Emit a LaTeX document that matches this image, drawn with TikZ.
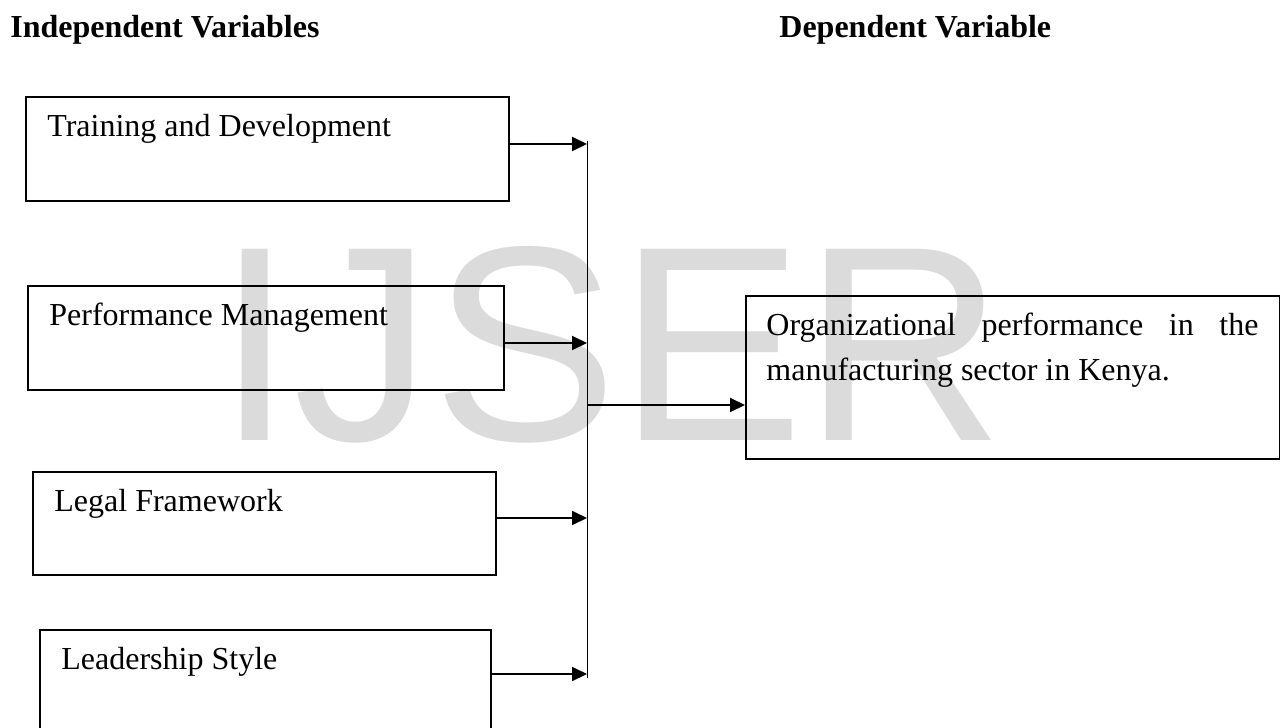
\documentclass[tikz,border=0pt]{standalone}
\usepackage{fontspec}
\setmainfont{Liberation Serif}
\newfontfamily\markfont{Liberation Sans}
\usetikzlibrary{arrows.meta}
\newcommand\bodysize{\fontsize{16}{22.5}\selectfont}
\newcommand\nohyph{\hyphenpenalty=10000\relax}

\begin{document}
\begin{tikzpicture}[x=0.5pt,y=-0.5pt]
	\tikzstyle{varbox}=[draw,line width=1pt,inner sep=0pt,anchor=north west]
	\tikzstyle{boxtext}=[anchor=base west,inner sep=0pt,xshift=11pt,yshift=-20pt,font=\bodysize]
	\tikzstyle{head}=[anchor=base west,inner sep=0pt,font=\bodysize\bfseries]
	\tikzstyle{feed}=[-{Triangle[length=7.5pt,width=7pt]},line width=1pt]

	\clip (0,0) rectangle (1280,728);
	\fill[white] (0,0) rectangle (1280,728);

	% watermark
	\node[anchor=base west,inner sep=0pt,text=black!14,font=\markfont\fontsize{139}{139}\selectfont] (mark) at (216,440) {IJSER};

	\node[head] (indep) at (10,37) {Independent Variables};
	\node[head] (dep) at (779,37) {Dependent Variable};

	% independent variables
	\node[varbox,minimum width=241.5pt,minimum height=52pt,label={[boxtext]north west:Training and Development}] (train) at (25,96) {};
	\node[varbox,minimum width=238pt,minimum height=52pt,label={[boxtext]north west:Performance Management}] (manage) at (27,285) {};
	\node[varbox,minimum width=231.5pt,minimum height=51.5pt,label={[boxtext]north west:Legal Framework}] (legal) at (32,471) {};
	\node[varbox,minimum width=225.5pt,minimum height=52pt,label={[boxtext]north west:Leadership Style}] (lead) at (39,629) {};

	% dependent variable
	\node[varbox,minimum width=267pt,minimum height=81.5pt] (perf) at (745,295) {};
	\node[anchor=base west,inner sep=0pt,text width=246pt,align=justify,font=\bodysize\nohyph] (perftext) at ([xshift=10.5pt,yshift=-20pt]perf.north west) {Organizational performance in the manufacturing sector in Kenya.};

	% collecting line
	\coordinate (bustop) at (587,141);
	\coordinate (busbot) at (587,678);
	\coordinate (b1) at (587,144);
	\coordinate (b2) at (587,343);
	\coordinate (b3) at (587,518);
	\coordinate (b4) at (587,674);
	\coordinate (bout) at (587,405);
	\draw[line width=0.5pt] (bustop) -- (busbot);

	\draw[feed] (train.east |- b1) -- (b1);
	\draw[feed] (manage.east |- b2) -- (b2);
	\draw[feed] (legal.east |- b3) -- (b3);
	\draw[feed] (lead.east |- b4) -- (b4);
	\draw[feed] (bout) -- (perf.west |- bout);
\end{tikzpicture}
\end{document}
